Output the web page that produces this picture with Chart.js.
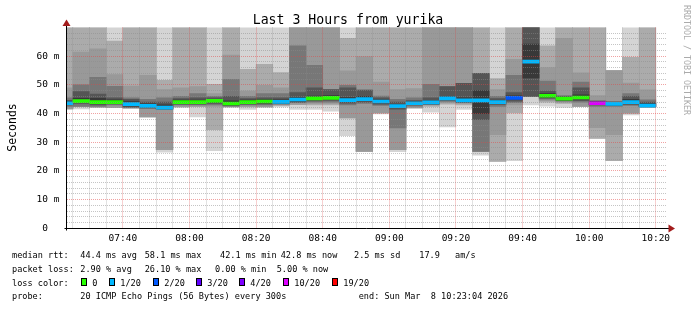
<!DOCTYPE html>
<html>
<head>
<meta charset="utf-8">
<script src="https://cdn.jsdelivr.net/npm/chart.js@4/dist/chart.umd.min.js"></script>
<style>
  html, body { margin: 0; padding: 0; background: #fff; }
</style>
</head>
<body>
<canvas id="chart" width="697" height="310"></canvas>
<script>
// 5 minute slots (start time of each step)
const slots = ['07:20','07:25','07:30','07:35','07:40','07:45','07:50','07:55','08:00','08:05','08:10','08:15',
  '08:20','08:25','08:30','08:35','08:40','08:45','08:50','08:55','09:00','09:05','09:10','09:15',
  '09:20','09:25','09:30','09:35','09:40','09:45','09:50','09:55','10:00','10:05','10:10','10:15'];

// median rtt (ms) and packet loss (%) per slot
const median = [43.6,44.3,44.0,44.0,43.3,42.7,42.1,44.0,44.0,44.4,43.5,44.0,44.2,44.1,44.9,45.3,45.5,44.7,
  45.0,44.2,42.6,43.6,43.9,45.3,44.6,44.6,44.0,45.5,58.1,46.2,45.2,45.6,43.6,43.4,44.0,42.8];
const lossPct = [5,0,0,0,5,5,5,0,0,0,0,0,0,2.5,5,0,0,5,5,2.5,5,2.5,5,5,2.5,5,5,10,5,0,0,0,26.1,5,5,5];

// smoke bands, outermost (A) to innermost (F): low / high ping edge in ms
const hiA = [75,75,75,75,75,75,75,75,75,75,75,75,75,75,75,75,75,75,75,75,75,75,75,75,75,75,75,75,75,75,75,75,75,55,75,75];
const loA = [41.6,41.6,42.2,42.1,42,38.8,26.5,42.3,38.8,27.1,42.3,41.4,42.3,42.3,41.4,41.4,40.8,32.3,26.8,39.9,26.7,42,40.5,35.3,41.4,25.5,23.3,23.6,43,42.6,42.1,42.5,31.3,23.6,39.5,42.1];
const hiB = [75,75,75,65.3,75,75,51.6,75,75,50.2,75,55.4,57.2,54.3,75,75,75,66.2,75,75,75,75,75,75,75,75,52.2,75,75,63.6,75,75,75,55,59.6,75];
const loB = [41.6,42.5,42.2,42.1,42,38.8,27.4,42.3,42.5,34.4,42.3,42.3,42.3,42.8,43.2,43,43,38.5,26.8,40.2,27.4,42,42.5,43.3,43,26.8,23.3,40.2,46,44,43.5,42.5,31.3,23.6,40.1,42.2];
const hiC = [49,61.4,62.6,53.6,49.6,53.3,48.4,49,49.4,47,60.4,47.8,49.8,49,75,75,75,54.9,59.9,51,48.4,48.7,75,75,75,54,48.4,58.9,75,56,66.2,54.2,46.3,55,50.6,48.3];
const loC = [41.6,42.5,42.2,42.1,42,38.8,27.4,42.3,42.5,42.5,42.3,42.5,42.3,43,43.2,43.5,43.5,38.5,26.8,40.2,27.4,42,43,43.8,43.5,26.8,32.6,43,46,44.5,44,42.5,35.1,32.6,40.1,42.3];
const hiD = [45.5,50,52.6,49.5,45.5,45,45.5,46,47,46,51.9,46,47,47,63.6,56.8,48.4,49.8,48.2,46.1,45,45.5,50.2,49.4,50.5,54,46,53.3,75,51.3,46.3,51,44.5,44.2,47,44.8];
const loD = [42.5,42.5,42.5,43,42,41.8,41.4,43,43,43,42.6,43,43,43.3,43.8,44,44,43,43.5,42.8,35,42.6,43.2,44.2,43.8,26.8,42.5,43.8,46,45,44.3,44,42.5,42.5,42.8,42.5];
const hiE = [44.6,47.7,46.8,45.5,45,44,44,45.2,45.5,45.5,46,45.2,45.5,45.5,47.3,49,48.4,49,48.2,45.5,44,44.5,45.5,49.4,50.5,54,45.2,47.3,75,47.8,46,49,44.2,44,46,44];
const loE = [43,43.5,43,43.4,42.3,42,41.5,43.3,43.3,43.5,42.9,43.3,43.4,43.5,44,44.4,44.6,43.6,44,43.3,41.5,43,43.4,44.6,44,37.9,43.2,44.3,46,45.4,44.6,44.5,43,42.8,43.2,42.3];
const hiF = [44.2,45.3,45.3,44.8,44.2,43.4,43,44.7,44.7,45,44.4,44.7,44.9,44.8,45.6,46.1,46.3,45.6,46,44.8,43.2,44.1,44.4,46,45.5,48,44.6,46.2,64.2,47,45.7,46.5,44.1,43.9,45,43.5];
const loF = [43.2,43.8,43.5,43.7,42.7,42.2,41.7,43.5,43.5,43.9,43,43.5,43.7,43.6,44.4,44.8,45,44.2,44.5,43.7,42.1,43.1,43.4,44.8,44.1,40,43.5,45,52.4,45.7,44.7,45.1,43.1,42.9,43.5,42.4];

const lossSteps = [0, 1, 2, 3, 4, 10, 19];
const lossLabels = ['0', '1/20', '2/20', '3/20', '4/20', '10/20', '19/20'];
const lossColors = ['#26ff00', '#00b8ff', '#0059ff', '#5e00ff', '#7e00ff', '#dd00ff', '#ff0000'];

const FONT = 'DejaVu Sans Mono';
const START = 7 * 60 + 23 + 4 / 60;   // 07:23:04
const END = START + 180;              // 10:23:04
const CHAR_W = 5.15;                  // legend character advance

function toMin(s) {
  const p = s.split(':');
  return Number(p[0]) * 60 + Number(p[1]);
}

function fmt(v) {
  const h = Math.floor(v / 60), m = Math.round(v % 60);
  return String(h).padStart(2, '0') + ':' + String(m).padStart(2, '0');
}

function lossColor(pct) {
  const n = pct / 5;
  for (let i = 0; i < lossSteps.length; i++) {
    if (n <= lossSteps[i]) return lossColors[i];
  }
  return lossColors[lossColors.length - 1];
}

const layers = [
  { lo: loA, hi: hiA, color: '#d4d4d4' },
  { lo: loB, hi: hiB, color: '#ababab' },
  { lo: loC, hi: hiC, color: '#999999' },
  { lo: loD, hi: hiD, color: '#777777' },
  { lo: loE, hi: hiE, color: '#555555' },
  { lo: loF, hi: hiF, color: '#383838' }
];

const barCommon = {
  type: 'bar',
  borderWidth: 0,
  grouped: false,
  barPercentage: 1,
  categoryPercentage: 1,
  clip: 0
};

const datasets = layers.map((l, i) => Object.assign({}, barCommon, {
  label: 'smoke' + i,
  data: slots.map((s, k) => ({ x: toMin(s) + 2.5, y: [l.lo[k], l.hi[k]] })),
  backgroundColor: l.color,
  order: 10 - i
}));

datasets.push(Object.assign({}, barCommon, {
  label: 'median',
  data: slots.map((s, k) => ({ x: toMin(s) + 2.5, y: [median[k] - 0.53, median[k] + 0.53] })),
  backgroundColor: lossPct.map(lossColor),
  order: 0
}));

const MINOR = 'rgba(140,140,140,0.5)';
const MAJOR = 'rgba(225,70,70,0.5)';

function monoText(ctx, s, x, y) {
  ctx.fillText(s, x, y, s.length * CHAR_W);
}

const decor = {
  id: 'decor',
  afterDraw(chart) {
    const ctx = chart.ctx;
    const a = chart.chartArea;
    ctx.save();

    // axes
    const ax = Math.round(a.left) - 0.5, ay = Math.round(a.bottom) + 0.5;
    ctx.strokeStyle = '#000';
    ctx.lineWidth = 1;
    ctx.beginPath();
    ctx.moveTo(ax, ay + 2);
    ctx.lineTo(ax, a.top - 3);
    ctx.moveTo(ax - 2, ay);
    ctx.lineTo(a.right + 3, ay);
    ctx.stroke();

    ctx.fillStyle = '#a31c1c';
    ctx.beginPath();
    ctx.moveTo(ax, a.top - 8);
    ctx.lineTo(ax - 4, a.top - 1.5);
    ctx.lineTo(ax + 4, a.top - 1.5);
    ctx.closePath();
    ctx.fill();
    ctx.beginPath();
    ctx.moveTo(a.right + 9, ay);
    ctx.lineTo(a.right + 2.5, ay - 4);
    ctx.lineTo(a.right + 2.5, ay + 4);
    ctx.closePath();
    ctx.fill();

    // title
    ctx.fillStyle = '#000';
    ctx.textBaseline = 'alphabetic';
    ctx.textAlign = 'center';
    ctx.font = '13.2px "' + FONT + '"';
    ctx.fillText('Last 3 Hours from yurika', 348, 24);

    // y axis title
    ctx.save();
    ctx.translate(15.5, 127.5);
    ctx.rotate(-Math.PI / 2);
    ctx.font = '11.5px "' + FONT + '"';
    ctx.fillText('Seconds', 0, 0);
    ctx.restore();

    // watermark
    ctx.save();
    ctx.translate(684, 5);
    ctx.rotate(Math.PI / 2);
    ctx.textAlign = 'left';
    ctx.fillStyle = '#ababab';
    ctx.font = '8.3px "' + FONT + '"';
    ctx.fillText('RRDTOOL / TOBI OETIKER', 0, 0);
    ctx.restore();

    // legend
    ctx.textAlign = 'left';
    ctx.font = '8.7px "' + FONT + '"';
    ctx.fillStyle = '#000';
    const rows = [
      [258.3, [['median rtt:', 12], ['44.4 ms avg', 80.3], ['58.1 ms max', 144.7], ['42.1 ms min', 220],
               ['42.8 ms now', 280.7], ['2.5 ms sd', 354], ['17.9', 419.3], ['am/s', 455]]],
      [271.7, [['packet loss:', 12], ['2.90 % avg', 80.3], ['26.10 % max', 144.7], ['0.00 % min', 215],
               ['5.00 % now', 276.7]]],
      [285.7, [['loss color:', 12]]],
      [299.3, [['probe:', 12], ['20 ICMP Echo Pings (56 Bytes) every 300s', 80.3],
               ['end: Sun Mar  8 10:23:04 2026', 358.7]]]
    ];
    rows.forEach(r => r[1].forEach(t => monoText(ctx, t[0], t[1], r[0])));

    const boxX = [81, 109, 153, 196, 239, 283, 332];
    lossLabels.forEach((lab, i) => {
      ctx.fillStyle = lossColors[i];
      ctx.fillRect(boxX[i], 278, 6, 8);
      ctx.strokeStyle = '#000';
      ctx.strokeRect(boxX[i] + 0.5, 278.5, 5, 7);
      ctx.fillStyle = '#000';
      monoText(ctx, lab, boxX[i] + 11.3, 285.7);
    });

    ctx.restore();
  }
};

new Chart(document.getElementById('chart'), {
  type: 'bar',
  data: { datasets: datasets },
  options: {
    responsive: false,
    animation: false,
    devicePixelRatio: 1,
    layout: { padding: { left: 0, top: 27.5, right: 31, bottom: 0 } },
    plugins: {
      legend: { display: false },
      tooltip: { enabled: false },
      title: { display: false }
    },
    scales: {
      x: {
        type: 'linear',
        min: START,
        max: END,
        offset: false,
        afterBuildTicks: s => {
          s.ticks = [];
          for (let v = 445; v <= 620; v += 5) s.ticks.push({ value: v });
        },
        afterFit: s => { s.height = 310 - 228.3; },
        ticks: {
          autoSkip: false,
          maxRotation: 0,
          padding: 5,
          color: '#000',
          font: { family: FONT, size: 9.5 },
          callback: v => (v % 20 === 0 ? fmt(v) : '')
        },
        grid: {
          offset: false,
          drawTicks: false,
          z: 1,
          lineWidth: 1,
          color: c => (c.tick && c.tick.value % 20 === 0 ? MAJOR : MINOR)
        },
        border: { display: false, dash: [1, 1] }
      },
      y: {
        min: 0,
        max: 70,
        afterBuildTicks: s => {
          s.ticks = [];
          for (let v = 0; v <= 68; v += 2) s.ticks.push({ value: v });
        },
        afterFit: s => { s.width = 66.5; },
        ticks: {
          autoSkip: false,
          padding: 7,
          color: '#000',
          font: { family: FONT, size: 9.5 },
          callback: v => (v % 10 ? '' : (v ? v + ' m' : '0  '))
        },
        grid: {
          drawTicks: false,
          z: 1,
          lineWidth: 1,
          color: c => (c.tick && c.tick.value % 10 === 0 ? MAJOR : MINOR)
        },
        border: { display: false, dash: [1, 1] }
      }
    }
  },
  plugins: [decor]
});
</script>
</body>
</html>
